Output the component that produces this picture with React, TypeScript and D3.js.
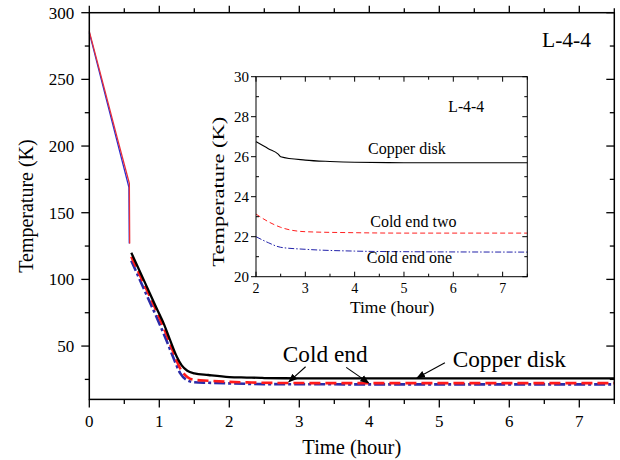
import React from "react";
import * as d3 from "d3";

// ---- Main chart data (time in hours, temperature in K) ----
const precoolRed: [number, number][] = [
  [0, 286], [0.2, 246], [0.4, 206], [0.572, 172], [0.577, 127],
];
const precoolBlue: [number, number][] = [
  [0, 285], [0.2, 244], [0.4, 203], [0.566, 169], [0.571, 127],
];
const copperDisk: [number, number][] = [
  [0.6, 120], [0.8, 97], [1.0, 74], [1.05, 68.5], [1.15, 55], [1.25, 42],
  [1.32, 35.5], [1.4, 31.5], [1.5, 29.6], [1.7, 28.3], [2.0, 26.75],
  [2.25, 26.4], [2.45, 26.13], [2.5, 26.0], [3.0, 25.83], [3.5, 25.76],
  [4.0, 25.72], [5.0, 25.7], [6.0, 25.7], [7.5, 25.7],
];
const coldEndTwo: [number, number][] = [
  [0.6, 117], [0.8, 94.5], [1.0, 71.5], [1.1, 59], [1.2, 45.5], [1.3, 33],
  [1.4, 26.8], [1.5, 24.7], [1.7, 24.0], [2.0, 23.13], [2.25, 22.75],
  [2.5, 22.47], [3.0, 22.25], [4.0, 22.2], [5.0, 22.18], [7.5, 22.18],
];
const coldEndOne: [number, number][] = [
  [0.6, 114], [0.8, 90.5], [1.0, 67], [1.1, 54.5], [1.2, 41.5], [1.3, 29.5],
  [1.4, 24.3], [1.5, 22.9], [1.7, 22.5], [2.0, 22.0], [2.25, 21.7],
  [2.5, 21.47], [3.0, 21.37], [4.0, 21.28], [5.0, 21.25], [7.5, 21.23],
];

const mainXTicks = [0, 1, 2, 3, 4, 5, 6, 7];
const mainXMinor = [0.5, 1.5, 2.5, 3.5, 4.5, 5.5, 6.5, 7.5];
const mainYTicks = [50, 100, 150, 200, 250, 300];
const mainYMinor = [25, 75, 125, 175, 225, 275];

const insetXTicks = [2, 3, 4, 5, 6, 7];
const insetXMinor = [2.5, 3.5, 4.5, 5.5, 6.5, 7.5];
const insetYTicks = [20, 22, 24, 26, 28, 30];
const insetYMinor = [21, 23, 25, 27, 29];

// annotation anchors in data units: [textX, textY, label]
const mainLabels: [number, number, string][] = [
  [3.37, 38.2, "Cold end"],
  [6.0, 34.4, "Copper disk"],
];
// arrows: [tailX, tailY, headX, headY]
const mainArrows: [number, number, number, number][] = [
  [3.09, 34.5, 2.85, 23.2],
  [3.67, 34.0, 3.99, 22.4],
  [5.08, 37.5, 4.68, 26.0],
];
const insetLabels: [number, number, string][] = [
  [5.06, 26.13, "Copper disk"],
  [5.19, 22.5, "Cold end two"],
  [5.11, 20.67, "Cold end one"],
];

const FONT = "'Liberation Serif', 'Times New Roman', serif";

export default function App() {
  const W = 620, H = 460;
  const x = d3.scaleLinear().domain([0, 7.5]).range([89.3, 614.3]);
  const y = d3.scaleLinear().domain([10, 300]).range([399.4, 12.7]);
  const xi = d3.scaleLinear().domain([2, 7.5]).range([256, 527.3]);
  const yi = d3.scaleLinear().domain([20, 30]).range([276.7, 76.7]);

  const line = d3
    .line<[number, number]>()
    .x((d) => x(d[0]))
    .y((d) => y(d[1]))
    .curve(d3.curveMonotoneX);
  const lineLin = d3
    .line<[number, number]>()
    .x((d) => x(d[0]))
    .y((d) => y(d[1]));
  const lineI = d3
    .line<[number, number]>()
    .x((d) => xi(d[0]))
    .y((d) => yi(d[1]))
    .curve(d3.curveMonotoneX);
  const insetData = (s: [number, number][]) => s.filter((d) => d[0] >= 2);

  const [x0, x1] = x.range();
  const [yb, yt] = y.range();
  const [xi0, xi1] = xi.range();
  const [yib, yit] = yi.range();

  return (
    <svg
      width={W}
      height={H}
      style={{ position: "absolute", left: 0, top: 0, background: "#fff", fontFamily: FONT }}
    >
      <defs>
        <marker
          id="arrow"
          viewBox="0 0 10 10"
          refX="9"
          refY="5"
          markerWidth="9"
          markerHeight="9"
          markerUnits="userSpaceOnUse"
          orient="auto"
        >
          <path d="M0,1 L10,5 L0,9 Z" fill="#000" />
        </marker>
      </defs>
      <rect width={W} height={H} fill="#fff" />

      {/* main lines */}
      <g fill="none">
        <path d={lineLin(precoolBlue) || ""} stroke="#2b2bd0" strokeWidth={1.3} />
        <path d={lineLin(precoolRed) || ""} stroke="#e8303a" strokeWidth={1.3} />
        <path d={line(coldEndOne) || ""} stroke="#2b2ba8" strokeWidth={2.6} strokeDasharray="11,3,3,3" />
        <path d={line(coldEndTwo) || ""} stroke="#ff1a1a" strokeWidth={2.6} strokeDasharray="11,5" />
        <path d={line(copperDisk) || ""} stroke="#000" strokeWidth={2.3} />
      </g>

      {/* main frame */}
      <rect x={x0} y={yt} width={x1 - x0} height={yb - yt} fill="none" stroke="#000" strokeWidth={1.5} />
      {mainXTicks.map((t) => (
        <g key={"bx" + t}>
          <line x1={x(t)} x2={x(t)} y1={yb} y2={yb + 8} stroke="#000" strokeWidth={1.3} />
          <line x1={x(t)} x2={x(t)} y1={yt} y2={yt - 7} stroke="#000" strokeWidth={1.3} />
          <text x={x(t)} y={yb + 28} textAnchor="middle" fontSize={17}>
            {t}
          </text>
        </g>
      ))}
      {mainXMinor.map((t) => (
        <g key={"bm" + t}>
          <line x1={x(t)} x2={x(t)} y1={yb} y2={yb + 4.5} stroke="#000" strokeWidth={1.3} />
          <line x1={x(t)} x2={x(t)} y1={yt} y2={yt - 4.5} stroke="#000" strokeWidth={1.3} />
        </g>
      ))}
      {mainYTicks.map((t) => (
        <g key={"ly" + t}>
          <line x1={x0} x2={x0 - 8} y1={y(t)} y2={y(t)} stroke="#000" strokeWidth={1.3} />
          <line x1={x1} x2={x1 - 8} y1={y(t)} y2={y(t)} stroke="#000" strokeWidth={1.3} />
          <text x={x0 - 15} y={y(t) + 6} textAnchor="end" fontSize={17}>
            {t}
          </text>
        </g>
      ))}
      {mainYMinor.map((t) => (
        <g key={"lm" + t}>
          <line x1={x0} x2={x0 - 4.5} y1={y(t)} y2={y(t)} stroke="#000" strokeWidth={1.3} />
          <line x1={x1} x2={x1 - 4.5} y1={y(t)} y2={y(t)} stroke="#000" strokeWidth={1.3} />
        </g>
      ))}
      <text x={(x0 + x1) / 2} y={454} textAnchor="middle" fontSize={20.5}>
        Time (hour)
      </text>
      <text
        transform={`translate(33, ${(yt + yb) / 2}) rotate(-90)`}
        textAnchor="middle"
        fontSize={20}
      >
        Temperature (K)
      </text>
      <text x={591} y={46.5} textAnchor="end" fontSize={21.5}>
        L-4-4
      </text>

      {/* main annotations */}
      {mainLabels.map(([tx, ty, s]) => (
        <text key={s} x={x(tx)} y={y(ty)} textAnchor="middle" fontSize={23.3}>
          {s}
        </text>
      ))}
      {mainArrows.map(([ax, ay, bx, by], i) => (
        <line
          key={"ar" + i}
          x1={x(ax)}
          y1={y(ay)}
          x2={x(bx)}
          y2={y(by)}
          stroke="#000"
          strokeWidth={1.1}
          markerEnd="url(#arrow)"
        />
      ))}

      {/* inset */}
      <rect x={xi0} y={yit} width={xi1 - xi0} height={yib - yit} fill="#fff" />
      <g fill="none">
        <path d={lineI(insetData(copperDisk)) || ""} stroke="#000" strokeWidth={1.1} />
        <path d={lineI(insetData(coldEndTwo)) || ""} stroke="#ff2020" strokeWidth={1} strokeDasharray="5,3" />
        <path d={lineI(insetData(coldEndOne)) || ""} stroke="#2222aa" strokeWidth={1} strokeDasharray="6,2,1.5,2" />
      </g>
      <rect x={xi0} y={yit} width={xi1 - xi0} height={yib - yit} fill="none" stroke="#000" strokeWidth={1} />
      {insetXTicks.map((t) => (
        <g key={"ix" + t}>
          <line x1={xi(t)} x2={xi(t)} y1={yib} y2={yib - 5} stroke="#000" />
          <line x1={xi(t)} x2={xi(t)} y1={yit} y2={yit + 5} stroke="#000" />
          <text x={xi(t)} y={yib + 16.5} textAnchor="middle" fontSize={14}>
            {t}
          </text>
        </g>
      ))}
      {insetXMinor.map((t) => (
        <g key={"ixm" + t}>
          <line x1={xi(t)} x2={xi(t)} y1={yib} y2={yib - 3} stroke="#000" />
          <line x1={xi(t)} x2={xi(t)} y1={yit} y2={yit + 3} stroke="#000" />
        </g>
      ))}
      {insetYTicks.map((t) => (
        <g key={"iy" + t}>
          <line x1={xi0} x2={xi0 - 5} y1={yi(t)} y2={yi(t)} stroke="#000" />
          <line x1={xi1} x2={xi1 - 5} y1={yi(t)} y2={yi(t)} stroke="#000" />
          <text x={xi0 - 7} y={yi(t) + 5} textAnchor="end" fontSize={15}>
            {t}
          </text>
        </g>
      ))}
      {insetYMinor.map((t) => (
        <g key={"iym" + t}>
          <line x1={xi0} x2={xi0 + 3} y1={yi(t)} y2={yi(t)} stroke="#000" />
          <line x1={xi1} x2={xi1 - 3} y1={yi(t)} y2={yi(t)} stroke="#000" />
        </g>
      ))}
      <text x={(xi0 + xi1) / 2 + 0.5} y={312.5} textAnchor="middle" fontSize={17.5}>
        Time (hour)
      </text>
      <text
        transform={`translate(224, ${(yit + yib) / 2 + 15}) rotate(-90)`}
        textAnchor="middle"
        fontSize={17}
        textLength={150}
        lengthAdjust="spacingAndGlyphs"
      >
        Temperature (K)
      </text>
      <text x={448.3} y={112.3} fontSize={15.7}>
        L-4-4
      </text>
      {insetLabels.map(([tx, ty, s]) => (
        <text key={"il" + s} x={xi(tx)} y={yi(ty)} textAnchor="middle" fontSize={16}>
          {s}
        </text>
      ))}
    </svg>
  );
}
